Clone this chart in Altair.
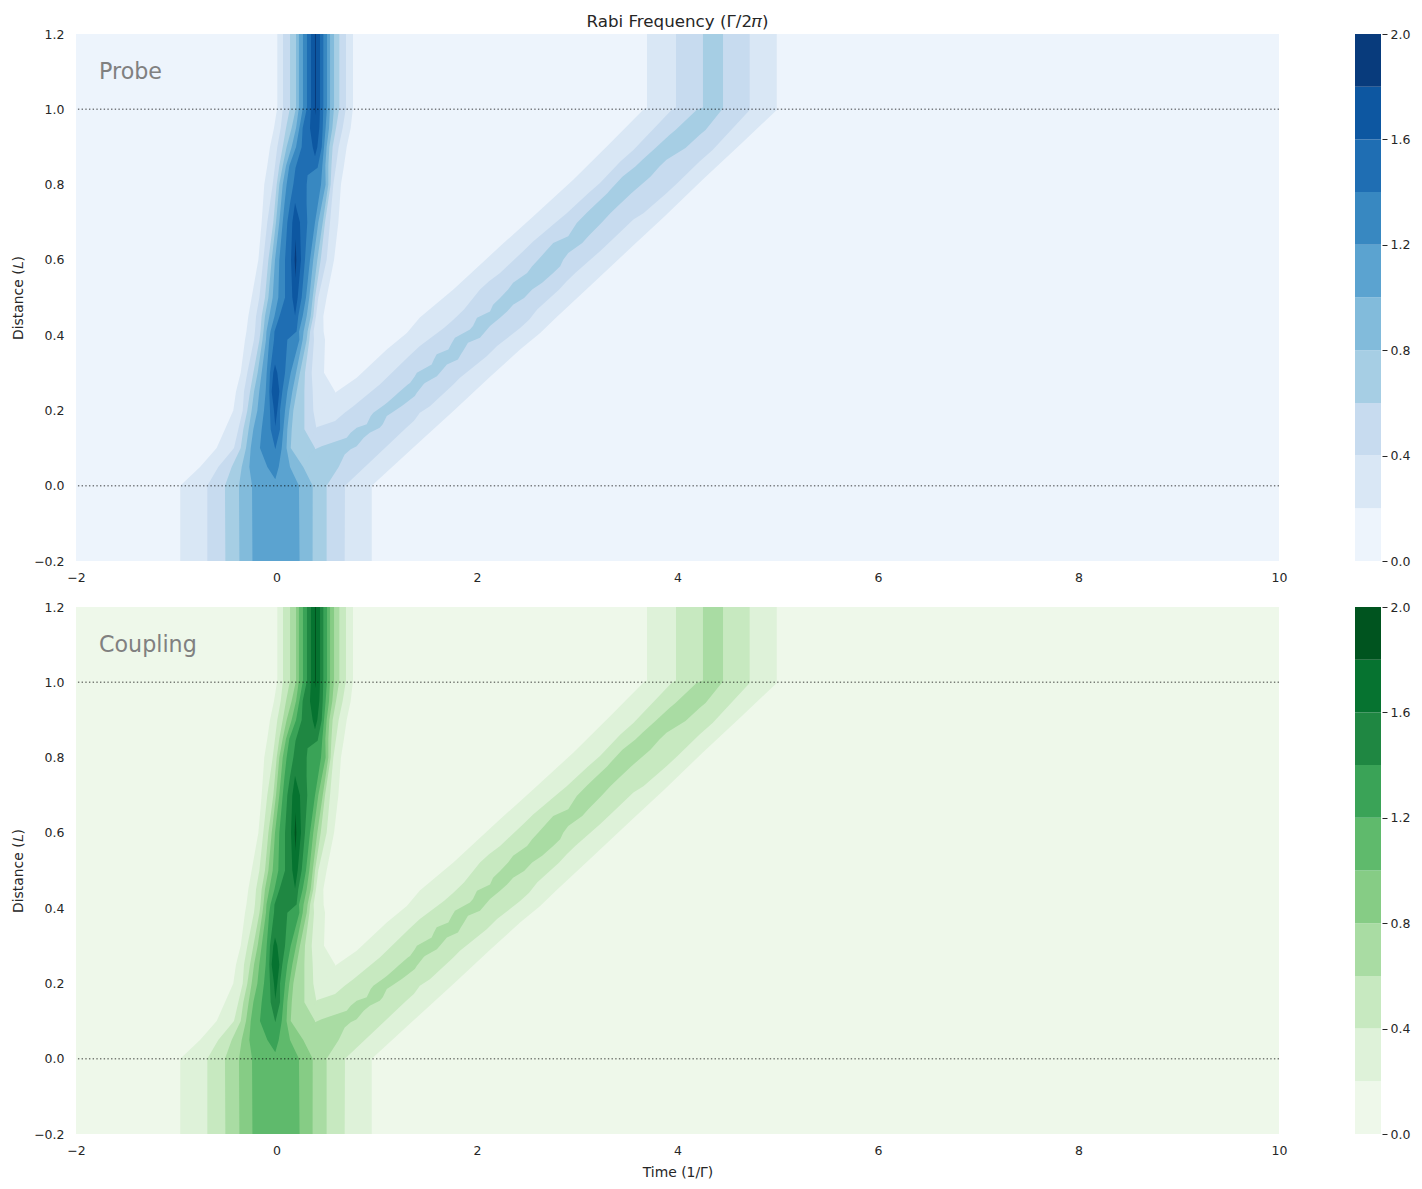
import altair as alt
import pandas as pd

# contour levels and band colours
levels = [0.0, 0.2, 0.4, 0.6, 0.8, 1.0, 1.2, 1.4, 1.6, 1.8, 2.0]
blues = ["#edf4fc", "#d9e7f5", "#c7dbef", "#a6cee4", "#82bbdb", "#5ba3d0", "#3888c1", "#1f6eb3", "#0d57a1", "#083b7c"]
greens = ["#eef8ea", "#def2d9", "#c7e9c0", "#a9dca3", "#86cc85", "#5fba6c", "#3aa357", "#1f8742", "#067330", "#00541f"]

# fast ridge, outline of each filled level
y_main = [-0.2, 0, 0.05, 0.1, 0.15, 0.2, 0.25, 0.3, 0.388, 0.41, 0.45, 0.5, 0.6, 0.7, 0.75, 0.8, 0.85, 0.9, 0.95, 1.005, 1.2]
l1_left = [-0.96, -0.96, -0.763, -0.597, -0.514, -0.431, -0.404, -0.357, -0.314, -0.30, -0.281, -0.248, -0.181, -0.148, -0.135, -0.122, -0.092, -0.065, -0.025, 0.008, 0.008]
l1_right = [0.6, 0.6, 0.6, 0.6, 0.6, 0.6, 0.584, 0.474, 0.484, 0.47, 0.467, 0.50, 0.574, 0.617, 0.63, 0.643, 0.673, 0.70, 0.74, 0.763, 0.763]
l2_left = [-0.69, -0.69, -0.581, -0.424, -0.381, -0.337, -0.324, -0.291, -0.225, -0.215, -0.204, -0.171, -0.132, -0.092, -0.065, -0.038, -0.015, 0.008, 0.042, 0.065, 0.065]
l2_right = [0.45, 0.45, 0.45, 0.45, 0.40, 0.367, 0.361, 0.351, 0.374, 0.37, 0.394, 0.417, 0.50, 0.534, 0.55, 0.567, 0.594, 0.62, 0.66, 0.693, 0.693]
l3_left = [-0.51, -0.514, -0.447, -0.357, -0.331, -0.291, -0.264, -0.231, -0.17, -0.16, -0.148, -0.115, -0.081, -0.032, -0.015, 0.002, 0.028, 0.062, 0.095, 0.135, 0.135]
l3_right = [0.4, 0.4, 0.4, 0.384, 0.278, 0.278, 0.278, 0.284, 0.328, 0.335, 0.367, 0.384, 0.441, 0.484, 0.512, 0.54, 0.548, 0.56, 0.594, 0.627, 0.627]
l4_left = [-0.37, -0.374, -0.347, -0.304, -0.278, -0.248, -0.224, -0.188, -0.14, -0.13, -0.115, -0.081, -0.048, -0.005, 0.012, 0.028, 0.062, 0.101, 0.151, 0.195, 0.195]
l4_right = [0.36, 0.361, 0.267, 0.142, 0.152, 0.168, 0.201, 0.234, 0.301, 0.31, 0.341, 0.361, 0.407, 0.461, 0.489, 0.517, 0.517, 0.527, 0.557, 0.574, 0.574]
l5_left = [-0.24, -0.244, -0.271, -0.257, -0.231, -0.191, -0.172, -0.148, -0.105, -0.10, -0.072, -0.038, -0.015, 0.028, 0.045, 0.062, 0.095, 0.151, 0.195, 0.224, 0.224]
l5_right = [0.23, 0.224, 0.135, 0.10, 0.108, 0.128, 0.158, 0.195, 0.261, 0.27, 0.301, 0.327, 0.367, 0.417, 0.453, 0.49, 0.487, 0.50, 0.524, 0.534, 0.534]

y_l6 = [0.017, 0.05, 0.1, 0.15, 0.2, 0.25, 0.3, 0.388, 0.41, 0.45, 0.5, 0.6, 0.7, 0.75, 0.8, 0.85, 0.9, 0.95, 1.005, 1.2]
l6_left = [-0.012, -0.091, -0.165, -0.148, -0.125, -0.108, -0.098, -0.072, -0.06, -0.02, 0.018, 0.028, 0.062, 0.08, 0.101, 0.128, 0.195, 0.228, 0.264, 0.264]
l6_right = [-0.012, 0.022, 0.052, 0.068, 0.085, 0.108, 0.142, 0.228, 0.225, 0.261, 0.294, 0.334, 0.384, 0.414, 0.444, 0.457, 0.474, 0.49, 0.504, 0.504]

y_l7 = [0.0966, 0.15, 0.2, 0.25, 0.3, 0.388, 0.41, 0.45, 0.5, 0.6, 0.7, 0.75, 0.8, 0.825, 0.845, 0.9, 0.95, 1.005, 1.2]
l7_left = [-0.012, -0.058, -0.065, -0.072, -0.065, -0.025, -0.02, 0.03, 0.085, 0.085, 0.108, 0.135, 0.168, 0.18, 0.19, 0.251, 0.261, 0.304, 0.304]
l7_right = [-0.012, 0.035, 0.035, 0.058, 0.085, 0.108, 0.20, 0.217, 0.251, 0.284, 0.307, 0.30, 0.301, 0.31, 0.41, 0.451, 0.461, 0.467, 0.467]

y_l8a = [0.158, 0.2, 0.25, 0.3, 0.322]
l8a_left = [-0.012, -0.025, -0.048, -0.032, -0.015]
l8a_right = [-0.012, 0.008, 0.028, 0.008, -0.015]
y_l8b = [0.452, 0.5, 0.6, 0.7, 0.751]
l8b_left = [0.185, 0.158, 0.145, 0.158, 0.185]
l8b_right = [0.185, 0.211, 0.244, 0.234, 0.185]
y_l8c = [0.875, 0.9, 0.95, 1.005, 1.2]
l8c_left = [0.384, 0.361, 0.334, 0.344, 0.344]
l8c_right = [0.384, 0.407, 0.427, 0.434, 0.434]
y_l9a = [0.553, 0.6, 0.654]
l9a_left = [0.19, 0.181, 0.19]
l9a_right = [0.19, 0.198, 0.19]
y_l9b = [0.985, 1.005, 1.2]
l9b_left = [0.389, 0.384, 0.384]
l9b_right = [0.389, 0.394, 0.394]

# slow ridge
y_s1 = [-0.2, 0, 0.1, 0.2, 0.247, 0.287, 0.362, 0.406, 0.447, 0.521, 0.636, 0.715, 0.813, 0.91, 0.998, 1.005, 1.2]
s1_left = [0.3, 0.3, 0.4, 0.45, 0.584, 0.80, 1.10, 1.3, 1.43, 1.764, 2.23, 2.56, 2.96, 3.327, 3.656, 3.696, 3.696]
s1_right = [0.95, 0.95, 1.36, 1.77, 1.96, 2.12, 2.43, 2.63, 2.79, 3.09, 3.55, 3.87, 4.25, 4.64, 4.99, 4.99, 4.99]
y_s2 = [-0.2, 0, 0.105, 0.155, 0.172, 0.194, 0.211, 0.269, 0.287, 0.344, 0.371, 0.419, 0.441, 0.468, 0.521, 0.543, 0.565, 0.623, 0.649, 0.707, 0.724, 0.777, 0.804, 0.861, 0.892, 0.998, 1.005, 1.2]
s2_left = [0.3, 0.3, 0.3, 0.40, 0.584, 0.68, 0.766, 1.03, 1.10, 1.32, 1.43, 1.67, 1.764, 1.87, 2.03, 2.12, 2.23, 2.46, 2.56, 2.82, 2.895, 3.11, 3.227, 3.43, 3.56, 3.94, 3.985, 3.985]
s2_right = [0.68, 0.683, 1.10, 1.30, 1.37, 1.43, 1.53, 1.764, 1.83, 2.097, 2.2, 2.43, 2.52, 2.6, 2.82, 2.895, 2.98, 3.227, 3.33, 3.56, 3.66, 3.89, 4.0, 4.22, 4.35, 4.72, 4.72, 4.72]
y_s3 = [-0.2, 0, 0.05, 0.083, 0.0966, 0.105, 0.1275, 0.141, 0.154, 0.163, 0.185, 0.194, 0.212, 0.22, 0.238, 0.247, 0.269, 0.273, 0.291, 0.30, 0.322, 0.335, 0.349, 0.362, 0.38, 0.393, 0.415, 0.424, 0.446, 0.463, 0.481, 0.499, 0.521, 0.539, 0.565, 0.583, 0.60, 0.618, 0.645, 0.663, 0.698, 0.724, 0.742, 0.777, 0.786, 0.821, 0.848, 0.866, 0.897, 0.932, 0.945, 0.998, 1.005, 1.2]
s3_left = [0.3, 0.30, 0.30, 0.33, 0.384, 0.45, 0.70, 0.74, 0.80, 0.90, 0.94, 0.966, 1.06, 1.10, 1.18, 1.215, 1.31, 1.332, 1.38, 1.40, 1.548, 1.57, 1.598, 1.714, 1.75, 1.78, 1.93, 1.96, 2.00, 2.13, 2.16, 2.23, 2.31, 2.36, 2.50, 2.55, 2.61, 2.67, 2.76, 2.91, 2.995, 3.09, 3.16, 3.30, 3.33, 3.45, 3.58, 3.65, 3.78, 3.92, 3.98, 4.19, 4.254, 4.254]
s3_right = [0.50, 0.50, 0.62, 0.68, 0.74, 0.80, 0.87, 0.93, 1.03, 1.06, 1.10, 1.15, 1.25, 1.29, 1.38, 1.40, 1.465, 1.48, 1.60, 1.63, 1.70, 1.81, 1.84, 1.87, 1.91, 2.03, 2.10, 2.13, 2.23, 2.30, 2.36, 2.47, 2.55, 2.65, 2.76, 2.83, 2.86, 2.91, 3.05, 3.11, 3.24, 3.33, 3.40, 3.54, 3.58, 3.73, 3.82, 3.89, 4.08, 4.22, 4.28, 4.44, 4.454, 4.454]

y_bg = [-0.2, 1.2]
bg_left = [-2, -2]
bg_right = [10, 10]

pieces = [
    ("b0", "bg", y_bg, bg_left, bg_right),
    ("b1", "m1", y_main, l1_left, l1_right), ("b1", "s1", y_s1, s1_left, s1_right),
    ("b2", "m2", y_main, l2_left, l2_right), ("b2", "s2", y_s2, s2_left, s2_right),
    ("b3", "m3", y_main, l3_left, l3_right), ("b3", "s3", y_s3, s3_left, s3_right),
    ("b4", "m4", y_main, l4_left, l4_right),
    ("b5", "m5", y_main, l5_left, l5_right),
    ("b6", "m6", y_l6, l6_left, l6_right),
    ("b7", "m7", y_l7, l7_left, l7_right),
    ("b8", "a8", y_l8a, l8a_left, l8a_right), ("b8", "b8", y_l8b, l8b_left, l8b_right), ("b8", "c8", y_l8c, l8c_left, l8c_right),
    ("b9", "a9", y_l9a, l9a_left, l9a_right), ("b9", "b9", y_l9b, l9b_left, l9b_right),
]
band_ids = [f"b{i}" for i in range(10)]
rows = []
for band, piece, ys, ls, rs in pieces:
    for yv, lv, rv in zip(ys, ls, rs):
        rows.append(dict(band=band, piece=piece, y=yv, xl=lv, xr=rv))
df = pd.DataFrame(rows)
bar_df = pd.DataFrame(dict(band=band_ids, low=levels[:-1], high=levels[1:]))

x_ticks = [-2, 0, 2, 4, 6, 8, 10]
y_ticks = [-0.2, 0.0, 0.2, 0.4, 0.6, 0.8, 1.0, 1.2]
bar_ticks = [0.0, 0.4, 0.8, 1.2, 1.6, 2.0]
ref_lines = [0.0, 1.0]

FONT = "DejaVu Sans"
INK = "#262626"
W, H = 1203, 527
NOVIEW = alt.ViewBackground(stroke="transparent")


def panel(name, colors, xtitle=None, title=None):
    xs = alt.Scale(domain=[-2, 10], nice=False, zero=False)
    ys = alt.Scale(domain=[-0.2, 1.2], nice=False, zero=False)
    xaxis = alt.Axis(values=x_ticks, title=xtitle, format="d", grid=False, domain=False, ticks=False,
                     labelPadding=10, labelFontSize=12.5, labelFont=FONT, labelColor=INK, labelFlush=False,
                     titleFont=FONT, titleFontSize=13.9, titleFontWeight="normal", titleColor=INK, titlePadding=9)
    yaxis = alt.Axis(values=y_ticks, title="Distance (𝐿)", format=".1f", grid=False, domain=False, ticks=False,
                     labelPadding=12, labelFontSize=12.5, labelFont=FONT, labelColor=INK, labelFlush=False,
                     titleFont=FONT, titleFontSize=13.9, titleFontWeight="normal", titleColor=INK, titlePadding=8)
    area = alt.Chart(df).mark_area(orient="horizontal", clip=True).encode(
        x=alt.X("xl:Q", scale=xs, axis=xaxis, stack=None),
        x2="xr:Q",
        y=alt.Y("y:Q", scale=ys, axis=yaxis),
        color=alt.Color("band:N", scale=alt.Scale(domain=band_ids, range=colors), legend=None),
        detail="piece:N",
    )
    rules = alt.Chart(pd.DataFrame(dict(v=ref_lines))).mark_rule(
        color="black", opacity=0.5, strokeWidth=1.39, strokeDash=[1.39, 2.29]).encode(y=alt.Y("v:Q", scale=ys, axis=yaxis))
    label = alt.Chart(pd.DataFrame(dict(t=[name], a=[-1.77], b=[1.099]))).mark_text(
        align="left", baseline="middle", font=FONT, fontSize=22.2, color="#808080").encode(
        x=alt.X("a:Q", scale=xs, axis=xaxis), y=alt.Y("b:Q", scale=ys, axis=yaxis), text="t:N")
    ch = alt.layer(area, rules, label).properties(width=W, height=H, view=NOVIEW)
    if title:
        ch = ch.properties(title=alt.TitleParams(title, anchor="middle", font=FONT, fontSize=16.7,
                                                 fontWeight="normal", color=INK, offset=-3))
    return ch


def colorbar(colors):
    return alt.Chart(bar_df).mark_rect().encode(
        y=alt.Y("low:Q", scale=alt.Scale(domain=[0, 2], nice=False),
                axis=alt.Axis(values=bar_ticks, orient="right", format=".1f", title=None, grid=False, domain=False,
                              tickSize=5, tickColor=INK, tickWidth=1, offset=1, labelPadding=3, labelFlush=False,
                              labelFontSize=12.5, labelFont=FONT, labelColor=INK)),
        y2="high:Q",
        color=alt.Color("band:N", scale=alt.Scale(domain=band_ids, range=colors), legend=None),
    ).properties(width=26, height=H, view=NOVIEW)


top = alt.hconcat(panel("Probe", blues, title="Rabi Frequency (Γ/2𝜋)"), colorbar(blues), spacing=66).resolve_scale(color="independent")
bottom = alt.hconcat(panel("Coupling", greens, xtitle="Time (1/Γ)"), colorbar(greens), spacing=66).resolve_scale(color="independent")
chart = alt.vconcat(top, bottom, spacing=16).resolve_scale(color="independent").properties(
    padding={"left": 3, "top": 5, "right": 0, "bottom": 0}, background="white"
).configure_view(stroke="transparent")
chart.save("out.html", embed_options={"renderer": "svg", "actions": False})
